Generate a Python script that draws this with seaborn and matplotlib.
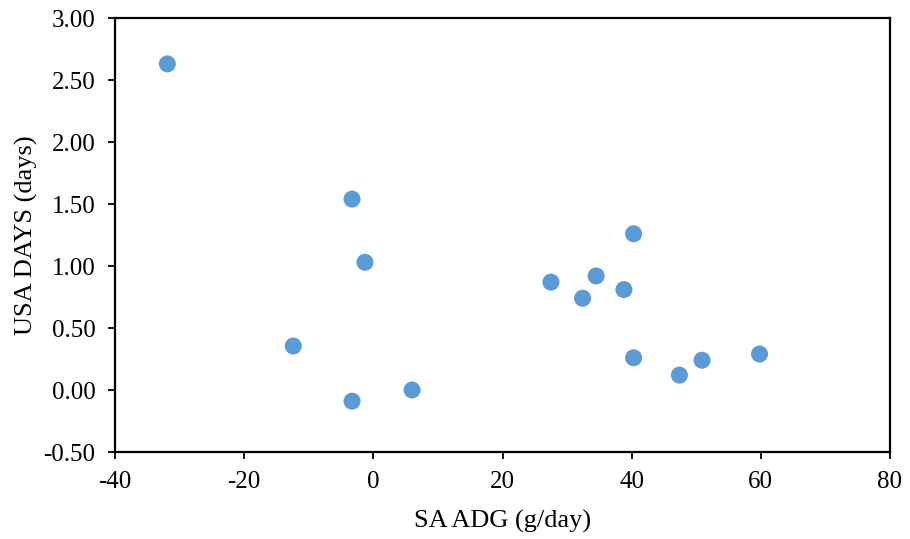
import matplotlib
matplotlib.use("Agg")
import matplotlib.pyplot as plt
import seaborn as sns
import pandas as pd

# values
sa_adg = [-31.9, -3.3, -1.3, -12.4, -3.3, 6.0, 27.5, 32.4, 34.5, 38.8, 40.3, 40.3, 47.4, 50.9, 59.8]
usa_days = [2.63, 1.54, 1.03, 0.355, -0.09, 0.0, 0.87, 0.74, 0.92, 0.81, 1.26, 0.26, 0.12, 0.24, 0.29]

df = pd.DataFrame({"sa_adg": sa_adg, "usa_days": usa_days})

sns.set_style("ticks")
plt.rcParams["font.family"] = ["Liberation Serif", "DejaVu Serif"]
plt.rcParams["axes.unicode_minus"] = False

fig = plt.figure(figsize=(9.1, 5.39), dpi=100)
ax = fig.add_axes([0.1264, 0.1614, 0.8516, 0.8052])

sns.scatterplot(data=df, x="sa_adg", y="usa_days", ax=ax, color="#5B9BD5",
                s=150, edgecolor="none", zorder=3)

ax.set_xlim(-40, 80)
ax.set_ylim(-0.5, 3.0)
ax.set_xticks(range(-40, 81, 20))
ax.set_yticks([-0.5, 0, 0.5, 1.0, 1.5, 2.0, 2.5, 3.0])
ax.set_yticklabels([f"{v:.2f}" for v in ax.get_yticks()])

for sp in ax.spines.values():
    sp.set_visible(True)
    sp.set_linewidth(1.6)
    sp.set_color("black")
ax.tick_params(direction="out", length=5, width=1.3, labelsize=18, colors="black")
ax.tick_params(axis="x", pad=9)
ax.tick_params(axis="y", pad=9)

ax.set_xlabel("SA ADG (g/day)", fontsize=19, labelpad=12, color="black")
ax.set_ylabel("USA DAYS (days)", fontsize=19, labelpad=4, color="black")

fig.savefig("out.png", dpi=100)
